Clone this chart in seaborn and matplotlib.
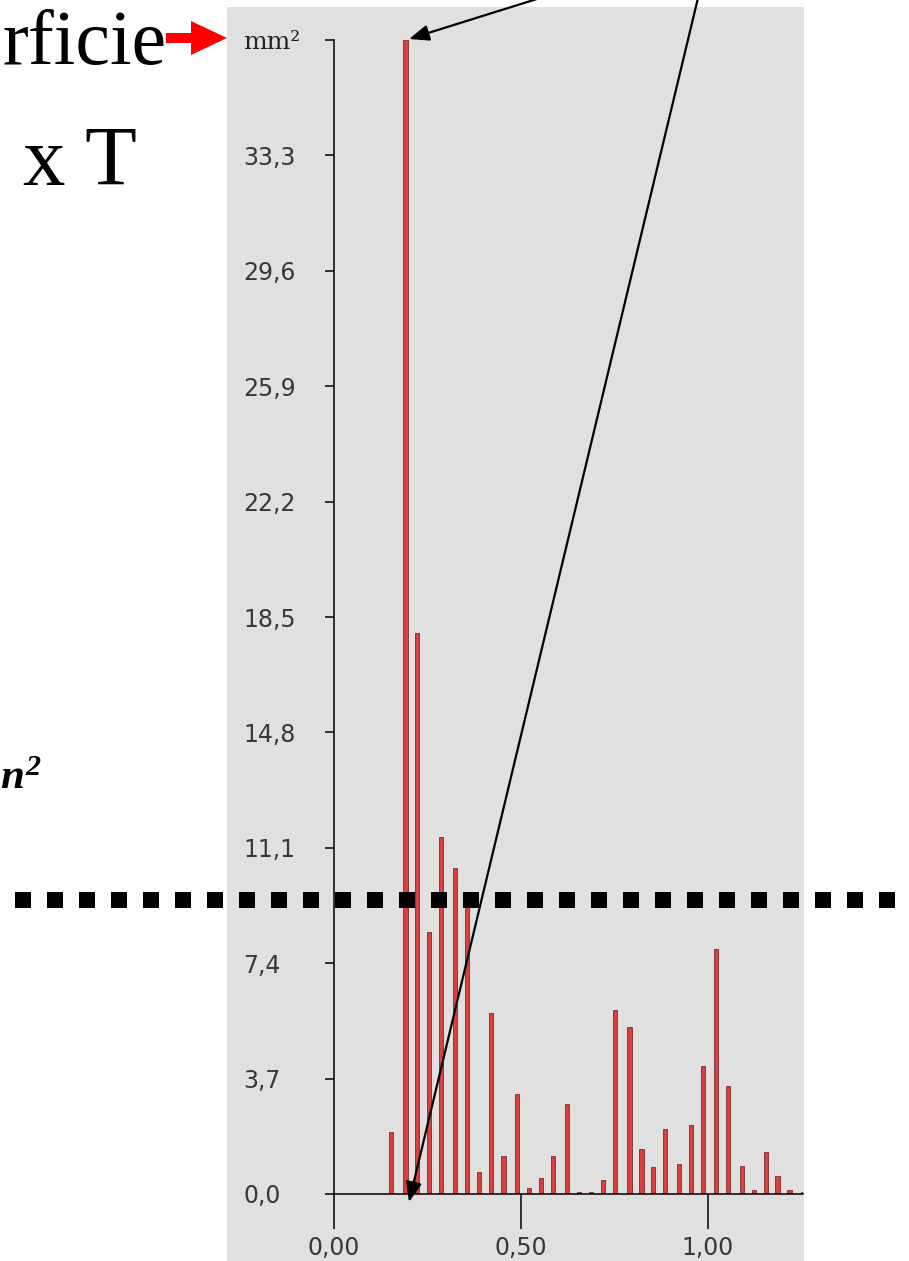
import matplotlib
matplotlib.use("Agg")
import matplotlib.pyplot as plt
from matplotlib.patches import Rectangle, FancyArrow
from matplotlib.lines import Line2D
import seaborn as sns
import pandas as pd

# ---- data ----
bin_x = [0.152, 0.191, 0.223, 0.254, 0.287, 0.324, 0.356, 0.388, 0.420, 0.453,
         0.490, 0.522, 0.554, 0.586, 0.624, 0.656, 0.688, 0.720, 0.752, 0.790,
         0.822, 0.854, 0.886, 0.923, 0.955, 0.987, 1.021, 1.053, 1.090, 1.122,
         1.154, 1.186, 1.218, 1.253]
area_mm2 = [2.0, 37.0, 18.0, 8.4, 11.45, 10.45, 9.4, 0.72, 5.8, 1.23,
            3.2, 0.2, 0.52, 1.23, 2.9, 0.05, 0.05, 0.45, 5.9, 5.35,
            1.43, 0.85, 2.08, 0.97, 2.2, 4.12, 7.85, 3.47, 0.91, 0.12,
            1.36, 0.58, 0.13, 0.05]
y_ticks = [0.0, 3.7, 7.4, 11.1, 14.8, 18.5, 22.2, 25.9, 29.6, 33.3, 37.0]
y_tick_labels = ["0,0", "3,7", "7,4", "11,1", "14,8", "18,5", "22,2",
                 "25,9", "29,6", "33,3", "mm²"]
x_ticks = [0.0, 0.5, 1.0]
x_tick_labels = ["0,00", "0,50", "1,00"]
slide_text_top = "rficie"
slide_text_mid = "x T"
slide_text_unit = r"$n^{2}$"

df = pd.DataFrame({"x": bin_x, "area": area_mm2})

sns.set_style("ticks")
plt.rcParams["font.family"] = ["DejaVu Sans"]
plt.rcParams["mathtext.fontset"] = "custom"
plt.rcParams["mathtext.it"] = "Liberation Serif:italic:bold"
plt.rcParams["mathtext.rm"] = "Liberation Serif:italic:bold"
plt.rcParams["mathtext.bf"] = "Liberation Serif:italic:bold"

W, H = 909, 1261
fig = plt.figure(figsize=(W / 100, H / 100), dpi=100)
fig.patch.set_facecolor("white")

# background panel (behind chart)
bg = fig.add_axes([0, 0, 1, 1], zorder=-1)
bg.set_xlim(0, W)
bg.set_ylim(H, 0)
bg.axis("off")
bg.add_patch(Rectangle((227, 7), 577, H - 7, facecolor="#e0e0e0", edgecolor="none"))

# main chart axes
ax = fig.add_axes([334 / W, (H - 1194) / H, (803 - 334) / W, (1194 - 40) / H], zorder=1)
ax.set_facecolor("none")
sns.barplot(data=df, x="x", y="area", native_scale=True, width=0.36,
            color="#dc3f3f", saturation=1, edgecolor="#7a2a2a", linewidth=0.6,
            errorbar=None, ax=ax)
ax.set_xlim(0, 1.254)
ax.set_ylim(0, 37.0)
ax.set_xlabel("")
ax.set_ylabel("")
for s in ["top", "right"]:
    ax.spines[s].set_visible(False)
for s in ["left", "bottom"]:
    ax.spines[s].set_color("black")
    ax.spines[s].set_linewidth(1.1)

ax.set_yticks(y_ticks)
ax.set_yticklabels(y_tick_labels)
ax.set_xticks(x_ticks)
ax.set_xticklabels(x_tick_labels)
ax.tick_params(axis="y", direction="out", length=6.5, width=1.1, color="black",
               labelsize=17, labelcolor="#383838", pad=59)
ax.tick_params(axis="x", direction="out", length=25, width=1.1, color="black",
               labelsize=17, labelcolor="#383838", pad=5)
for lab in ax.get_yticklabels():
    lab.set_horizontalalignment("left")
    if lab.get_text() == "mm²":
        lab.set_fontfamily("DejaVu Serif")
        lab.set_fontsize(18)
        lab.set_color("#222222")

# overlay for slide elements
ov = fig.add_axes([0, 0, 1, 1], zorder=10)
ov.set_xlim(0, W)
ov.set_ylim(H, 0)
ov.axis("off")
ov.set_facecolor("none")

serif = ["Liberation Serif", "DejaVu Serif"]
ov.text(167, 64, slide_text_top, ha="right", va="baseline", fontsize=56,
        family=serif, color="black")
ov.text(23, 185, slide_text_mid, ha="left", va="baseline", fontsize=61,
        family=serif, color="black")
ov.text(0, 789, slide_text_unit, ha="left", va="baseline", fontsize=31,
        color="black")

# red arrow
ov.add_patch(FancyArrow(166, 38, 61, 0, width=10, head_width=34, head_length=36,
                        length_includes_head=True, color="#ff0000", lw=0))

# black arrows
ov.annotate("", xy=(409, 39), xytext=(540, -2),
            arrowprops=dict(arrowstyle="-|>,head_length=0.55,head_width=0.22",
                            mutation_scale=22, lw=1.6, color="black",
                            shrinkA=0, shrinkB=0))
ov.annotate("", xy=(409, 1202), xytext=(698, -2),
            arrowprops=dict(arrowstyle="-|>,head_length=0.55,head_width=0.22",
                            mutation_scale=22, lw=1.6, color="black",
                            shrinkA=0, shrinkB=0))

# thick dotted line
ov.add_line(Line2D([15, 897], [900, 900], color="black", lw=11.52,
                   linestyle=(0, (1, 1)), dash_capstyle="butt"))

fig.savefig("out.png", dpi=100)
